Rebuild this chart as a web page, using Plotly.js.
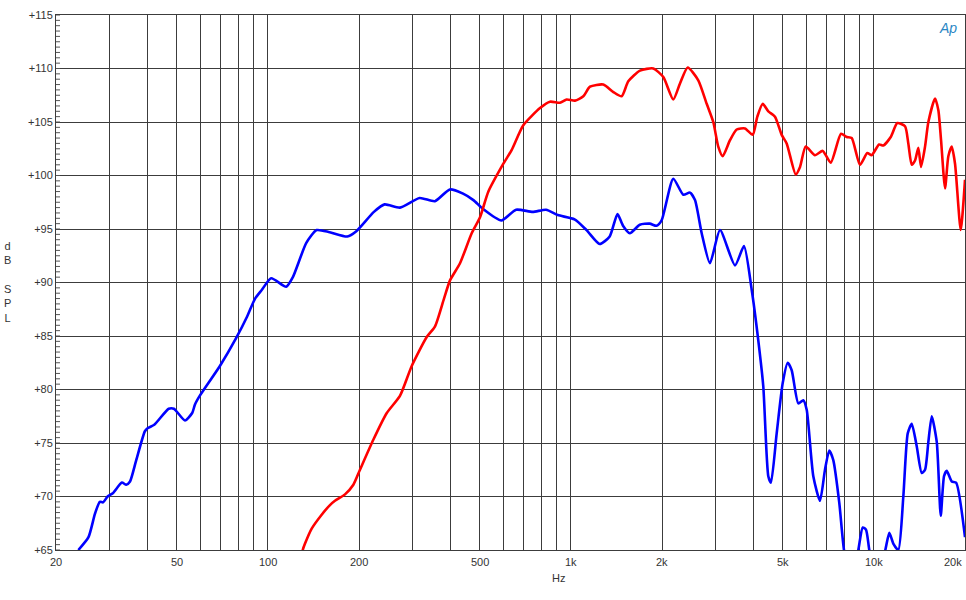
<!DOCTYPE html>
<html>
<head>
<meta charset="utf-8">
<script src="https://cdn.plot.ly/plotly-3.0.1.min.js"></script>
<style>
html,body{margin:0;padding:0;background:#fff;}
#chart{width:966px;height:600px;}
</style>
</head>
<body>
<div id="chart"></div>
<script>
// Blue series (Hz, dB SPL)
const blueFreq = [23.7,25.6,26.9,27.9,28.6,29.6,30.8,33.0,34.1,35.1,
  36.8,39.3,40.2,42.2,47.1,49.0,53.3,56.3,57.5,59.6,
  69.5,78.6,85.4,90.8,95.5,102.6,115,121,134,145,
  160,183,196,224,243,273,317,356,399,441,
  477,512,590,660,749,829,906,1029,1127,1246,
  1344,1426,1487,1566,1690,1822,1920,1994,2179,2352,
  2474,2570,2704,2879,3108,3483,3729,3955,4157,4318,
  4486,4578,4781,5005,5199,5359,5636,5853,6006,6315,
  6644,6901,7131,7351,7694,7973,8400,8891,9193,9426,
  9665,10200,10916,11253,11597,12050,12517,12943,13343,13858,
  14393,14762,15139,15534,16136,16634,17055,17410,18085,18688,
  20000];
const blueDb = [65.0,66.2,68.4,69.5,69.45,70.0,70.3,71.3,71.1,71.4,
  73.4,76.1,76.4,76.7,78.2,78.2,77.1,77.8,78.6,79.4,
  82.2,84.8,86.8,88.5,89.3,90.4,89.6,90.5,93.7,94.9,
  94.7,94.3,94.8,96.6,97.3,97.0,97.9,97.6,98.7,98.3,
  97.7,96.9,95.8,96.8,96.6,96.8,96.3,95.9,94.9,93.6,
  94.3,96.4,95.3,94.6,95.4,95.5,95.3,95.8,99.7,98.2,
  98.4,97.7,94.6,91.8,94.9,91.6,93.4,89.3,84.6,80.3,
  71.9,71.3,75.9,80.6,82.5,81.8,78.7,79.0,78.1,71.9,
  69.6,72.5,74.3,73.4,69.4,65.0,62.0,65.0,67.1,66.9,
  65.0,62.0,65.0,66.6,65.6,65.0,70.0,75.9,76.8,74.7,
  72.2,72.5,75.1,77.5,75.1,68.2,71.9,72.4,71.4,71.3,
  66.2];

// Red series (Hz, dB SPL)
const redFreq = [128,130.4,132.7,139.6,150.6,160.4,166.6,179.8,191.6,201.5,
  223,247,273,298.6,334.6,356.4,381.6,399.4,430.9,470.9,
  501.7,534.6,599,638.5,697,791.5,854,921,969,1033,
  1100,1157,1280,1382,1472,1548,1692,1872,2020,2179,
  2293,2431,2635,2809,2953,3067,3171,3353,3528,3757,
  3986,4127,4300,4487,4720,4966,5158,5525,5709,5962,
  6398,6783,7208,7795,8140,8455,9006,9518,9842,10407,
  10753,11375,11960,12679,13001,13341,13681,14028,14319,14762,
  15139,15930,16335,16672,17185,17621,18082,18540,19359,20000];
const redDb = [64.0,65.0,65.6,67.0,68.3,69.2,69.6,70.2,71.1,72.5,
  75.3,77.8,79.4,82.2,84.9,85.9,88.5,90.2,91.8,94.6,
  96.1,98.5,101.1,102.4,104.7,106.3,106.9,106.8,107.1,107.0,
  107.4,108.3,108.5,107.8,107.4,108.8,109.8,110.0,109.2,107.1,
  108.6,110.1,108.9,106.7,105.0,102.7,101.8,103.3,104.3,104.4,
  103.8,105.5,106.7,106.0,105.5,103.8,103.0,100.1,100.8,102.7,
  101.9,102.3,101.2,103.9,103.6,103.5,101.0,102.1,101.9,102.9,
  102.8,103.6,104.9,104.6,103.0,101.0,101.4,102.6,100.8,102.7,
  105.0,107.2,106.1,103.3,98.8,101.8,102.7,101.1,94.9,99.6];

// Axes
const xGrid = [30,40,50,60,70,80,90,100,200,300,400,500,600,700,800,900,1000,
  2000,3000,4000,5000,6000,7000,8000,9000,10000];
const xLabelVals = [20,50,100,200,500,1000,2000,5000,10000,20000];
const xLabelText = ["20","50","100","200","500","1k","2k","5k","10k","20k"];
const yTickVals = [65,70,75,80,85,90,95,100,105,110,115];
const yTickText = ["+65","+70","+75","+80","+85","+90","+95","+100","+105","+110","+115"];
const yMinorStep = 0.5;

const FONT = '"Liberation Sans", Arial, sans-serif';
const TXT = '#333333';
const GRID = '#3c3c3c';

const traces = [
  {x: blueFreq, y: blueDb, type: 'scatter', mode: 'lines',
   line: {color: '#0000ff', width: 2.6, shape: 'spline', smoothing: 0.6}, hoverinfo: 'skip'},
  {x: redFreq, y: redDb, type: 'scatter', mode: 'lines',
   line: {color: '#ff0000', width: 2.6, shape: 'spline', smoothing: 0.6}, hoverinfo: 'skip'}
];

// minor tick marks on the left axis (inside), every 0.5 dB
const shapes = [];
for (let v = yTickVals[0]; v <= yTickVals[yTickVals.length - 1] + 1e-9; v += yMinorStep) {
  shapes.push({type: 'line', xref: 'paper', yref: 'y', x0: 0, x1: 4 / 909, y0: v, y1: v,
    line: {color: '#555555', width: 1}, layer: 'above'});
}

const annotations = xLabelVals.map((v, i) => ({
  x: Math.log10(v), xref: 'x', y: 0, yref: 'paper', yanchor: 'top',
  xanchor: i === xLabelVals.length - 1 ? 'right' : 'center',
  xshift: i === xLabelVals.length - 1 ? -1 : 0,
  yshift: -4, text: xLabelText[i], showarrow: false,
  font: {family: FONT, size: 11, color: TXT}
}));
annotations.push({
  x: Math.log10(1000) - 0.04, xref: 'x', y: 0, yref: 'paper', yanchor: 'top', yshift: -20,
  text: 'Hz', showarrow: false, font: {family: FONT, size: 11, color: TXT}
});
annotations.push({
  x: -49 / 909, xref: 'paper', xanchor: 'center', y: (550 - 282) / 535, yref: 'paper', yanchor: 'middle',
  text: 'd<br>B<br> <br>S<br>P<br>L', showarrow: false,
  font: {family: FONT, size: 11, color: TXT}
});
annotations.push({
  x: 1, xref: 'paper', xanchor: 'right', xshift: -6, y: 1, yref: 'paper', yanchor: 'top', yshift: -3,
  text: '<i>Ap</i>', showarrow: false,
  font: {family: FONT, size: 14, color: '#2a86c4'}
});

const layout = {
  width: 966, height: 600,
  margin: {l: 56, r: 1, t: 15, b: 50},
  paper_bgcolor: '#ffffff', plot_bgcolor: '#ffffff',
  showlegend: false,
  font: {family: FONT, size: 11, color: TXT},
  xaxis: {
    type: 'log', range: [Math.log10(20), Math.log10(20000)],
    tickmode: 'array', tickvals: xGrid, showticklabels: false, ticks: '',
    showgrid: true, gridcolor: GRID, gridwidth: 1,
    showline: true, linecolor: GRID, linewidth: 1, mirror: true, zeroline: false
  },
  yaxis: {
    range: [65, 115], tickmode: 'array', tickvals: yTickVals, ticktext: yTickText,
    ticks: 'inside', ticklen: 4, tickcolor: GRID,
    showgrid: true, gridcolor: GRID, gridwidth: 1,
    showline: true, linecolor: GRID, linewidth: 1, mirror: true, zeroline: false,
    tickfont: {family: FONT, size: 11, color: TXT}
  },
  shapes: shapes,
  annotations: annotations
};

Plotly.newPlot('chart', traces, layout, {staticPlot: true, displayModeBar: false});
</script>
</body>
</html>
